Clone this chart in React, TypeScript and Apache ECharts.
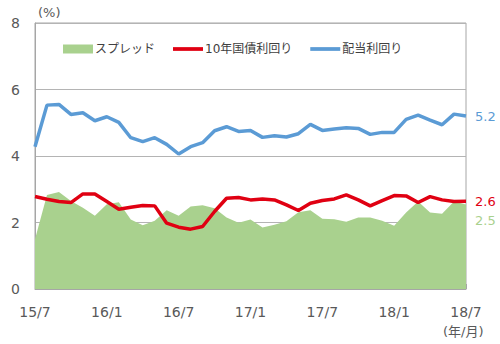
import React, { useEffect, useRef } from "react";
import * as echarts from "echarts";

const months = [
  "15/7","15/8","15/9","15/10","15/11","15/12",
  "16/1","16/2","16/3","16/4","16/5","16/6",
  "16/7","16/8","16/9","16/10","16/11","16/12",
  "17/1","17/2","17/3","17/4","17/5","17/6",
  "17/7","17/8","17/9","17/10","17/11","17/12",
  "18/1","18/2","18/3","18/4","18/5","18/6",
  "18/7",
];

const dividendYield = [
  4.28, 5.53, 5.55, 5.25, 5.30, 5.06, 5.18, 5.01, 4.55, 4.43, 4.55, 4.35,
  4.06, 4.28, 4.40, 4.76, 4.88, 4.74, 4.77, 4.56, 4.61, 4.57, 4.67, 4.95,
  4.77, 4.81, 4.85, 4.83, 4.65, 4.71, 4.71, 5.10, 5.23, 5.08, 4.94, 5.26,
  5.20,
];

const bondYield = [
  2.78, 2.70, 2.63, 2.60, 2.86, 2.86, 2.63, 2.40, 2.46, 2.51, 2.50, 1.98,
  1.86, 1.80, 1.88, 2.33, 2.73, 2.75, 2.68, 2.71, 2.68, 2.53, 2.36, 2.58,
  2.66, 2.71, 2.83, 2.68, 2.50, 2.66, 2.81, 2.80, 2.60, 2.78, 2.68, 2.63,
  2.64,
];

const spread = [
  1.50, 2.83, 2.92, 2.65, 2.44, 2.20, 2.55, 2.61, 2.09, 1.92, 2.05, 2.37,
  2.20, 2.48, 2.52, 2.43, 2.15, 1.99, 2.09, 1.85, 1.93, 2.04, 2.31, 2.37,
  2.11, 2.10, 2.02, 2.15, 2.15, 2.05, 1.90, 2.30, 2.63, 2.30, 2.26, 2.63,
  2.54,
];

const seriesNames = ["スプレッド", "10年国債利回り", "配当利回り"];
const yTicks = { min: 0, max: 8, interval: 2 };

const GREEN = "#A9D18E";
const RED = "#E00012";
const BLUE = "#5B9BD5";
const TEXT = "#595959";
const FONT = "'DejaVu Sans', 'Noto Sans CJK JP', sans-serif";

export default function App() {
  const ref = useRef<HTMLDivElement>(null);

  useEffect(() => {
    if (!ref.current) return;
    const chart = echarts.init(ref.current, undefined, { renderer: "svg" });
    const lineIcon = "path://M0,0 H32 V4 H0 Z";
    chart.setOption({
      animation: false,
      textStyle: { fontFamily: FONT },
      grid: {
        left: 35,
        right: 34,
        top: 23,
        bottom: 55,
        show: true,
        borderColor: "#a6a6a6",
        borderWidth: 1,
      },
      legend: {
        top: 38,
        left: 58,
        itemWidth: 30,
        itemHeight: 9,
        itemGap: 18,
        textStyle: { color: "#404040", fontSize: 12, fontFamily: FONT, padding: [0, 0, 0, -3] },
        data: [
          { name: seriesNames[0], icon: "rect" },
          { name: seriesNames[1], icon: lineIcon },
          { name: seriesNames[2], icon: lineIcon },
        ],
      },
      xAxis: {
        type: "category",
        data: months,
        boundaryGap: false,
        axisLine: { lineStyle: { color: "#a6a6a6", width: 1 } },
        axisTick: {
          inside: true,
          length: 5,
          interval: (i: number) => i % 6 === 0,
          lineStyle: { color: "#a6a6a6" },
        },
        axisLabel: {
          interval: (i: number) => i % 6 === 0,
          color: TEXT,
          fontSize: 14,
          margin: 16,
          fontFamily: FONT,
        },
        splitLine: { show: false },
      },
      yAxis: {
        type: "value",
        min: yTicks.min,
        max: yTicks.max,
        interval: yTicks.interval,
        axisLine: { show: true, lineStyle: { color: "#a6a6a6" } },
        axisTick: { show: false },
        axisLabel: { color: TEXT, fontSize: 14, margin: 15, fontFamily: FONT },
        splitLine: { lineStyle: { color: "#b4b4b4", width: 1 } },
      },
      graphic: [
        {
          type: "text",
          left: 38,
          top: 6,
          style: { text: "(%)", fill: TEXT, fontSize: 13, fontFamily: FONT },
        },
        {
          type: "text",
          left: 443,
          top: 325,
          style: { text: "(年/月)", fill: TEXT, fontSize: 13, fontFamily: FONT },
        },
      ],
      series: [
        {
          name: seriesNames[0],
          type: "line",
          data: spread,
          symbol: "none",
          color: GREEN,
          lineStyle: { width: 0 },
          areaStyle: { color: GREEN, opacity: 1 },
          z: 1,
          endLabel: {
            show: true,
            formatter: (p: any) => Number(p.value).toFixed(1),
            color: GREEN,
            fontSize: 13,
            fontFamily: FONT,
            distance: 9,
            offset: [0, 16],
          },
        },
        {
          name: seriesNames[1],
          type: "line",
          data: bondYield,
          symbol: "none",
          color: RED,
          lineStyle: { width: 3.5, color: RED },
          z: 3,
          endLabel: {
            show: true,
            formatter: (p: any) => Number(p.value).toFixed(1),
            color: RED,
            fontSize: 13,
            fontFamily: FONT,
            distance: 9,
          },
        },
        {
          name: seriesNames[2],
          type: "line",
          data: dividendYield,
          symbol: "none",
          color: BLUE,
          lineStyle: { width: 3.5, color: BLUE },
          z: 3,
          endLabel: {
            show: true,
            formatter: (p: any) => Number(p.value).toFixed(1),
            color: BLUE,
            fontSize: 13,
            fontFamily: FONT,
            distance: 9,
          },
        },
      ],
    });
    return () => chart.dispose();
  }, []);

  return <div ref={ref} style={{ width: 500, height: 344, position: "absolute", left: 0, top: 0 }} />;
}
